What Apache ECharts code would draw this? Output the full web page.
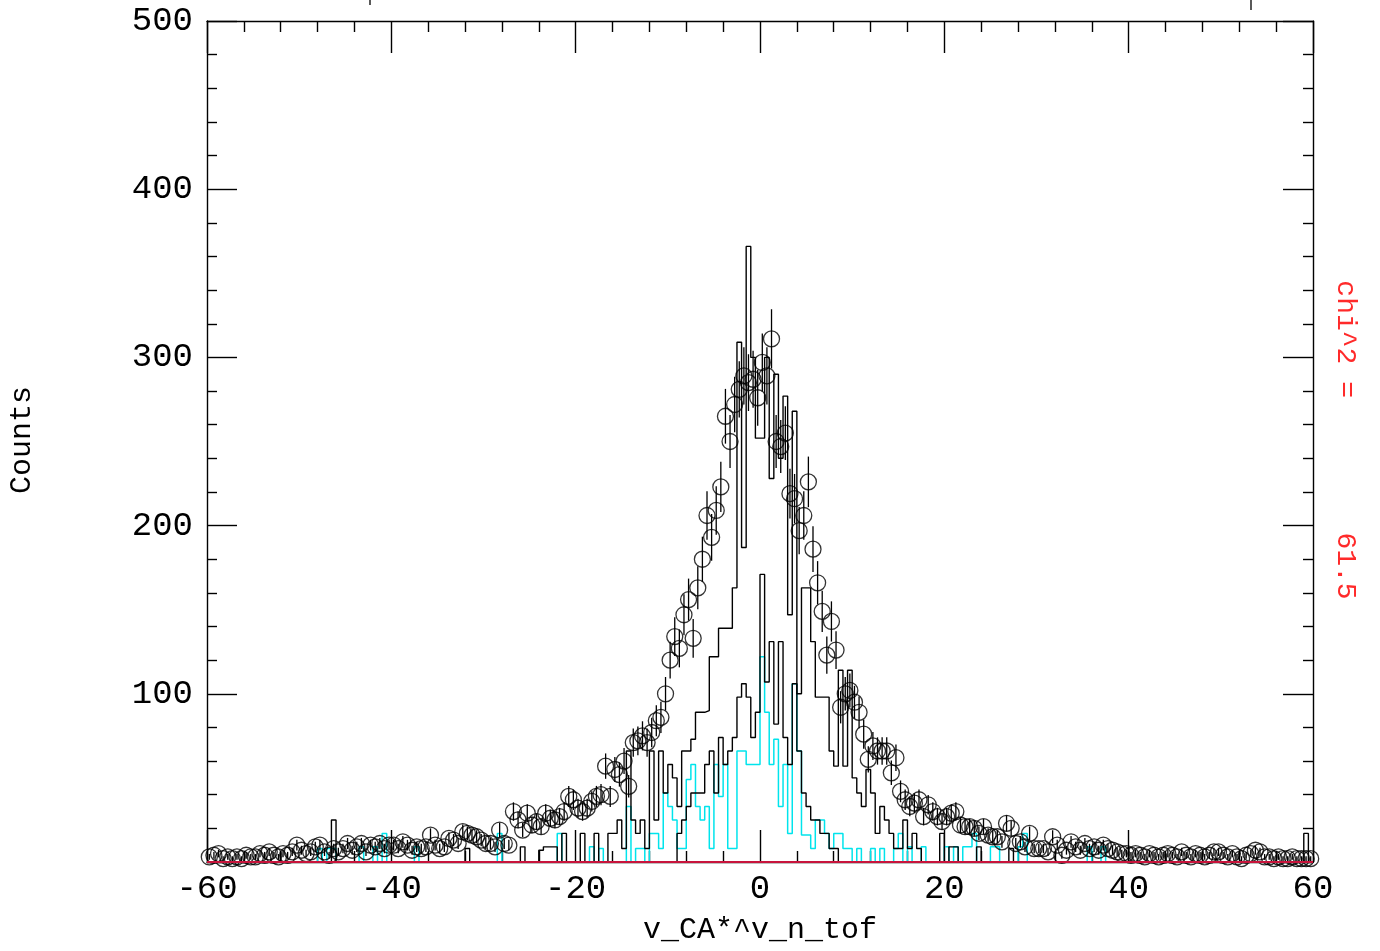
<!DOCTYPE html>
<html><head><meta charset="utf-8">
<script src="https://cdn.jsdelivr.net/npm/echarts@6/dist/echarts.min.js"></script>
<style>html,body{margin:0;padding:0;background:#fff}#c{width:1380px;height:951px}</style>
</head><body><div id="c"></div>
<script>
const xMin = -60, xMax = 60, binWidth = 0.5;
const yMin = 0, yMax = 500;
const xTickStep = 20, yTickStep = 100;
const xTitle = 'v_CA*^v_n_tof';
const yTitle = 'Counts';
const chiText = 'chi^2 =        61.5';

// data points (circles), one per 0.5-wide bin from -60 to 60
const dataCounts = [
  3,4,5,2,3,2,3,2,4,3, 3,5,4,6,4,3,5,4,6,10,
  7,5,6,9,10,6,4,8,6,8, 11,7,9,11,6,10,9,11,8,10,
  10,8,12,10,7,9,8,9,16,10, 8,9,14,13,11,18,17,16,15,13,
  11,11,9,19,11,10,30,25,19,29, 22,24,21,29,26,25,27,30,39,37,
  32,30,32,36,39,40,57,39,55,52, 60,45,71,72,75,71,77,84,86,100,
  120,134,127,147,156,133,163,180,206,193, 209,223,265,250,272,281,289,285,287,276,
  297,289,311,250,247,255,219,216,197,206, 226,186,166,149,123,143,126,92,100,102,
  95,89,76,61,69,66,66,66,53,62, 42,37,33,35,37,27,34,30,27,24,
  27,29,30,22,21,21,20,17,21,16, 15,15,12,23,20,11,12,9,17,8,
  8,8,6,15,10,4,7,12,9,7, 11,8,9,7,10,8,7,6,5,5,
  4,5,4,3,5,4,3,4,5,4, 3,6,4,3,5,4,3,4,6,6,
  4,3,5,3,2,4,5,7,6,3, 3,2,3,2,2,3,2,2,2,2
];

// outer black histogram
const histOuter = [
  0,0,0,0,0,0,0,0,0,0, 0,0,0,0,0,0,0,0,0,0,
  0,0,0,0,0,0,0,25,0,0, 0,0,0,0,0,0,0,0,0,0,
  0,0,0,0,0,0,0,0,0,0, 0,0,0,0,0,0,8,0,0,0,
  0,0,0,0,0,0,0,0,9,0, 0,0,7,9,9,9,0,17,0,0,
  0,17,0,0,17,0,0,17,17,25, 8,66,25,17,25,8,66,25,66,41,
  58,50,33,66,66,73,89,89,90,122, 122,139,139,139,163,309,187,366,300,252,
  252,300,228,290,240,277,147,268,100,163, 163,131,98,98,98,66,57,114,57,114,
  50,41,33,55,41,17,33,25,17,8, 8,25,8,17,8,0,0,0,0,17,
  0,9,9,0,0,0,0,9,0,0, 0,0,0,0,8,0,0,0,0,0,
  0,0,0,0,0,0,0,0,0,0, 0,0,0,0,0,0,0,0,0,0,
  0,0,0,0,0,0,0,0,0,0, 0,0,0,0,0,0,0,0,0,0,
  0,0,0,0,0,0,0,0,0,0, 0,0,0,0,0,0,0,0,17,0
];

// inner black histogram
const histInner = [
  0,0,0,0,0,0,0,0,0,0, 0,0,0,0,0,0,0,0,0,0,
  0,0,0,0,0,0,0,0,0,0, 0,0,0,0,0,0,0,0,0,0,
  0,0,0,0,0,0,0,0,0,0, 0,0,0,0,0,0,0,0,0,0,
  0,0,0,0,0,0,0,0,0,0, 0,0,0,0,0,0,0,0,0,0,
  0,0,0,0,0,0,0,0,0,0, 0,0,0,0,0,0,0,0,0,0,
  0,0,17,25,33,41,41,41,58,66, 41,74,58,66,74,98,106,98,74,89,
  171,107,131,82,131,74,58,106,66,41, 33,25,25,17,17,8,8,0,0,0,
  0,0,0,0,0,0,0,0,0,0, 0,0,0,0,0,0,0,0,0,0,
  0,0,0,0,0,0,0,0,0,0, 0,0,0,0,0,0,0,0,0,0,
  0,0,0,0,0,0,0,0,0,0, 0,0,0,0,0,0,0,0,0,0,
  0,0,0,0,0,0,0,0,0,0, 0,0,0,0,0,0,0,0,0,0,
  0,0,0,0,0,0,0,0,0,0, 0,0,0,0,0,0,0,0,0,0
];

// cyan histogram
const histCyan = [
  0,0,0,0,0,0,0,0,0,0, 0,0,0,0,0,0,0,0,0,0,
  0,0,0,0,8,0,8,8,0,0, 0,0,0,9,0,0,9,0,17,0,
  0,0,0,0,0,9,0,0,0,0, 0,0,0,0,0,0,0,0,0,0,
  0,0,0,17,0,0,0,0,0,0, 0,0,0,0,0,0,17,0,0,0,
  0,0,0,9,0,8,0,0,0,0, 0,33,0,8,8,0,17,17,8,41,
  33,25,8,8,49,58,33,25,33,8, 58,39,58,8,8,66,66,58,58,58,
  122,89,58,73,33,58,17,106,66,16, 16,8,25,25,17,8,17,17,8,8,
  0,8,0,0,8,0,8,0,0,8, 17,0,9,0,0,9,0,0,0,0,
  9,0,9,0,9,9,17,0,0,0, 9,9,0,0,0,0,9,17,0,0,
  0,0,0,0,0,0,0,0,0,0, 0,9,0,0,9,0,0,0,0,0,
  0,0,0,0,0,0,0,0,0,0, 0,0,0,0,0,0,0,0,0,0,
  0,0,0,0,0,0,0,0,0,0, 0,0,0,0,0,0,0,0,0,0
];

// fitted curve (zero everywhere across the range)
const fitX = [-60, 60];
const fitY = [0, 0];

function stepPoints(vals) {
  const pts = [[xMin, 0]];
  vals.forEach((v, i) => {
    const e = xMin + i * binWidth;
    pts.push([e, v], [e + binWidth, v]);
  });
  pts.push([xMax, 0]);
  return pts;
}
const circlePts = dataCounts.map((v, i) => [xMin + binWidth / 2 + i * binWidth, v, Math.sqrt(v)]);

const labelFont = { fontFamily: 'Liberation Mono', fontSize: 34, color: '#000' };
function xAxisCfg(pos, showLabel) {
  return {
    type: 'value', position: pos, min: xMin, max: xMax, interval: xTickStep,
    axisLine: { show: true, onZero: false, lineStyle: { color: '#000', width: 1.4 } },
    axisTick: { show: true, inside: true, length: 32, lineStyle: { color: '#000', width: 1.4 } },
    minorTick: { show: true, splitNumber: 5, length: 11, lineStyle: { color: '#000', width: 1.4 } },
    axisLabel: Object.assign({ show: showLabel, margin: 10 }, labelFont),
    splitLine: { show: false }, minorSplitLine: { show: false }
  };
}
function yAxisCfg(pos, showLabel) {
  return {
    type: 'value', position: pos, min: yMin, max: yMax, interval: yTickStep,
    axisLine: { show: true, onZero: false, lineStyle: { color: '#000', width: 1.4 } },
    axisTick: { show: true, inside: true, length: 30, lineStyle: { color: '#000', width: 1.4 } },
    minorTick: { show: true, splitNumber: 5, length: 10, lineStyle: { color: '#000', width: 1.4 } },
    axisLabel: Object.assign({ show: showLabel, margin: 14, formatter: v => v === 0 ? '' : String(v) }, labelFont),
    splitLine: { show: false }, minorSplitLine: { show: false }
  };
}

const chart = echarts.init(document.getElementById('c'), null, { renderer: 'canvas' });
chart.setOption({
  animation: false,
  backgroundColor: '#fff',
  grid: { left: 207, right: 67, top: 21, bottom: 89, containLabel: false },
  xAxis: [xAxisCfg('bottom', true), xAxisCfg('top', false)],
  yAxis: [yAxisCfg('left', true), yAxisCfg('right', false)],
  graphic: [
    { type: 'text', x: 760, y: 930, style: { text: xTitle, font: '30px "Liberation Mono"', fill: '#000', textAlign: 'center', textVerticalAlign: 'middle' } },
    { type: 'text', x: 22, y: 440, rotation: Math.PI / 2, style: { text: yTitle, font: '30px "Liberation Mono"', fill: '#000', textAlign: 'center', textVerticalAlign: 'middle' } },
    { type: 'text', x: 1345, y: 440, rotation: -Math.PI / 2, style: { text: chiText, font: '28px "Liberation Mono"', fill: '#ff2a2a', textAlign: 'center', textVerticalAlign: 'middle' } },
    { type: 'line', shape: { x1: 370, y1: 0, x2: 370, y2: 5 }, style: { stroke: '#000', lineWidth: 1.3 } },
    { type: 'line', shape: { x1: 1251, y1: 0, x2: 1251, y2: 10 }, style: { stroke: '#000', lineWidth: 1.3 } }
  ],
  series: [
    { type: 'line', data: stepPoints(histCyan), showSymbol: false, silent: true, z: 3,
      lineStyle: { color: '#00e4ec', width: 1.5 } },
    { type: 'line', data: stepPoints(histInner), showSymbol: false, silent: true, z: 4,
      lineStyle: { color: '#000', width: 1.4 } },
    { type: 'line', data: stepPoints(histOuter), showSymbol: false, silent: true, z: 4,
      lineStyle: { color: '#000', width: 1.4 } },
    { type: 'custom', z: 5, clip: true, silent: true, data: circlePts,
      renderItem: (params, api) => {
        const x = api.value(0), v = api.value(1), e = api.value(2);
        const p1 = api.coord([x, Math.max(0, v - e)]);
        const p2 = api.coord([x, v + e]);
        return { type: 'line', shape: { x1: p1[0], y1: p1[1], x2: p2[0], y2: p2[1] }, style: { stroke: '#000', lineWidth: 1.3 } };
      } },
    { type: 'scatter', z: 6, silent: true, data: circlePts.map(p => [p[0], p[1]]), symbol: 'circle', symbolSize: 16,
      itemStyle: { color: 'rgba(0,0,0,0)', borderColor: '#000', borderWidth: 1.3 } },
    { type: 'line', z: 7, silent: true, data: fitX.map((x, i) => [x, fitY[i]]), showSymbol: false,
      lineStyle: { color: '#c8143c', width: 2 } }
  ]
});
</script>
</body></html>
